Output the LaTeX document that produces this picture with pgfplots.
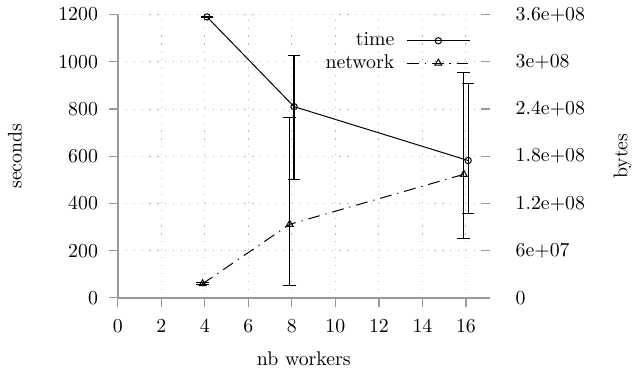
\documentclass[border=0pt]{standalone}
\usepackage{pgfplots}
\pgfplotsset{compat=1.18}
\begin{document}
\begin{tikzpicture}
\pgfplotsset{
  common/.style={
    scale only axis, width=188pt, height=143.15pt,
    xmin=0, xmax=17.1,
    tick style={gray!80, line width=0.6pt},
    major tick length=4.5pt,
    /pgf/number format/1000 sep={},
    scaled y ticks=false,
    legend image code/.code={\draw[mark repeat=2,mark phase=2,##1] plot coordinates {(0pt,0pt) (16pt,0pt) (32pt,0pt)};},
    error bars/error bar style={line width=0.6pt, black, solid},
    error bars/error mark options={black, rotate=90, mark size=3.2pt, line width=0.5pt, solid},
  },
}
\begin{axis}[common,
  ymin=0, ymax=1200,
  axis x line*=bottom, axis y line*=left,
  axis line style={gray!80, line width=0.8pt},
  xtick={0,2,...,16}, ytick={0,200,...,1200},
  tick align=outside,
  xticklabel style={yshift=-3pt},
  yticklabel style={xshift=-2pt},
  grid=major,
  grid style={gray!55, line width=0.5pt, dash pattern=on 0.6pt off 3.4pt},
  xlabel={nb workers}, ylabel={seconds},
  every axis x label/.style={at={(axis description cs:0.5,0)}, yshift=-30.5pt, anchor=center},
  every axis y label/.style={at={(axis description cs:0,0.5)}, xshift=-52pt, rotate=90, anchor=center},
]
\addplot[black, line width=0.5pt, mark=o, mark size=1.6pt,
  error bars/.cd, y dir=both, y explicit]
  coordinates {
  (4.1,1190) += (0,3) -= (0,3)
  (8.1,810) += (0,215) -= (0,310)
  (16.1,582) += (0,327) -= (0,225)
  };
\end{axis}
\begin{axis}[common,
  ymin=0, ymax=3.6e8,
  axis x line=none, axis y line*=right,
  axis line style={draw=none},
  ytick={0,6e7,1.2e8,1.8e8,2.4e8,3e8,3.6e8},
  yticklabels={0,6e+07,1.2e+08,1.8e+08,2.4e+08,3e+08,3.6e+08},
  yticklabel style={xshift=9.5pt},
  tick align=inside,
  ylabel={bytes},
  every axis y label/.style={at={(axis description cs:1,0.5)}, xshift=67pt, rotate=90, anchor=center},
  legend style={draw=none, fill=none, at={(axis description cs:0.965,0.965)}, anchor=north east, row sep=-1pt, column sep=4pt},
  legend plot pos=right, legend cell align=right,
]
\addlegendimage{black, line width=0.5pt, mark=o, mark size=1.6pt}
\addlegendentry{time}
\addplot[black, line width=0.5pt, dash pattern=on 6pt off 3pt on 0.6pt off 3pt, mark=triangle, mark size=2pt, mark options={solid},
  error bars/.cd, y dir=both, y explicit]
  coordinates {
  (3.9,1.8e7) += (0,1e6) -= (0,1e6)
  (7.9,9.35e7) += (0,1.355e8) -= (0,7.75e7)
  (15.9,1.57e8) += (0,1.3e8) -= (0,8.2e7)
  };
\addlegendentry{network}
\end{axis}
\path[use as bounding box] (-59.5pt,-40pt) rectangle (259.5pt,150.5pt);
\end{tikzpicture}
\end{document}
